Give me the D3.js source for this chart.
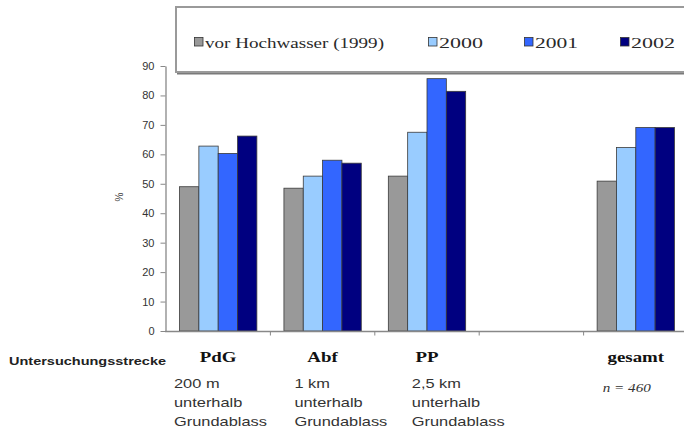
<!DOCTYPE html>
<html><head><meta charset="utf-8">
<script src="https://cdn.jsdelivr.net/npm/d3@7"></script>
<style>html,body{margin:0;padding:0;background:#fff;}svg{display:block;}</style>
</head><body>
<svg id="c" width="684" height="431"></svg>
<script>
// ---- data ----
const categories = ["PdG", "Abf", "PP", "", "gesamt"];
const seriesNames = ["vor Hochwasser (1999)", "2000", "2001", "2002"];
const v1999 = [49.0, 48.5, 52.6, null, 50.9];
const v2000 = [62.8, 52.6, 67.5, null, 62.3];
const v2001 = [60.3, 58.0, 85.7, null, 69.1];
const v2002 = [66.2, 57.0, 81.4, null, 69.1];
const yTicks = [0, 10, 20, 30, 40, 50, 60, 70, 80, 90];
const subLabels = [["200 m", "unterhalb", "Grundablass"], ["1 km", "unterhalb", "Grundablass"], ["2,5 km", "unterhalb", "Grundablass"], [], []];
const noteLabels = ["", "", "", "", "n = 460"];
const rowTitle = "Untersuchungsstrecke";
const yTitle = "%";

// ---- layout / style ----
const colors = ["#999999", "#99ccff", "#3366ff", "#000080"];
const allSeries = [v1999, v2000, v2001, v2002];
const SERIF = '"Liberation Serif", "Times New Roman", serif';
const SANS = '"Liberation Sans", Arial, sans-serif';
const svg = d3.select("#c");
const STRETCH = 1.26;
function stretch(sel, f) {
  sel.each(function () {
    const w = this.getComputedTextLength();
    this.setAttribute("textLength", w * f);
    this.setAttribute("lengthAdjust", "spacingAndGlyphs");
  });
}

const x0 = d3.scaleBand().domain(categories).range([166, 688]).paddingInner(0).paddingOuter(0);
const x1 = d3.scaleBand().domain(seriesNames).range([0, x0.bandwidth()]).paddingInner(0).paddingOuter(0.7);
const y = d3.scaleLinear().domain([0, 90]).range([331, 66]);

// legend box
const lg = svg.append("g");
lg.append("rect").attr("x", 177).attr("y", 9.5).attr("width", 560).attr("height", 65).attr("fill", "#7a7a7a");
lg.append("rect").attr("x", 176).attr("y", 7).attr("width", 560).attr("height", 65)
  .attr("fill", "#fff").attr("stroke", "#9a9a9a").attr("stroke-width", 2);
const legendLayout = [{ x: 194, w: 179 }, { x: 428, w: 44 }, { x: 524, w: 43 }, { x: 620, w: 44 }];
seriesNames.forEach((s, i) => {
  const L = legendLayout[i];
  lg.append("rect").attr("x", L.x + 0.5).attr("y", 37.5).attr("width", 8.5).attr("height", 8.5)
    .attr("fill", colors[i]).attr("stroke", "#333").attr("stroke-width", 0.8);
  lg.append("text").attr("x", L.x + 11).attr("y", 47.5)
    .attr("font-family", SERIF).attr("font-size", 15)
    .attr("fill", "#2a2a2a").attr("textLength", L.w).attr("lengthAdjust", "spacingAndGlyphs").text(s);
});

// bars
const groups = svg.append("g").selectAll("g").data(categories).join("g")
  .attr("transform", d => `translate(${x0(d)},0)`);
groups.selectAll("rect")
  .data((c, ci) => seriesNames.map((s, si) => ({ s, v: allSeries[si][ci], i: si })).filter(d => d.v != null))
  .join("rect")
  .attr("x", d => x1(d.s)).attr("width", x1.bandwidth())
  .attr("y", d => y(d.v)).attr("height", d => y(0) - y(d.v))
  .attr("fill", d => colors[d.i]).attr("stroke", "#3a3a3a").attr("stroke-width", 0.8);

// y axis
const ya = svg.append("g").attr("transform", "translate(165.5,0)")
  .call(d3.axisLeft(y).tickValues(yTicks).tickSize(5).tickSizeOuter(0).tickPadding(6));
ya.select(".domain").attr("stroke", "#888").attr("stroke-width", 1.3);
ya.selectAll(".tick line").attr("stroke", "#888");
ya.selectAll(".tick text").attr("font-family", SANS)
  .attr("font-size", 11).attr("fill", "#333");

// x axis (boundary ticks)
const xa = svg.append("g");
xa.append("line").attr("x1", 165).attr("x2", 688).attr("y1", 331.5).attr("y2", 331.5)
  .attr("stroke", "#888").attr("stroke-width", 1.5);
xa.selectAll("line.t").data(categories.slice(1)).join("line").attr("class", "t")
  .attr("x1", d => x0(d)).attr("x2", d => x0(d)).attr("y1", 331.5).attr("y2", 335.5)
  .attr("stroke", "#888").attr("stroke-width", 1);

// y title
svg.append("text").attr("transform", "translate(123,197) rotate(-90)").attr("text-anchor", "middle")
  .attr("font-family", SANS).attr("font-size", 10).attr("fill", "#444").text(yTitle);

// row title
svg.append("text").attr("x", 9).attr("y", 364.5)
  .attr("font-family", SANS).attr("font-weight", "bold")
  .attr("font-size", 11.5).attr("fill", "#222").text(rowTitle).call(stretch, STRETCH);

// category labels
svg.append("g").selectAll("text").data(categories.filter(c => c !== "")).join("text")
  .attr("x", d => x0(d) + x0.bandwidth() / 2).attr("y", 362).attr("text-anchor", "middle")
  .attr("font-family", SERIF).attr("font-weight", "bold")
  .attr("font-size", 15).attr("fill", "#111").text(d => d).call(stretch, STRETCH);

// sub labels
const subOffset = [8, 24, 37, 0, 0];
categories.forEach((c, ci) => {
  subLabels[ci].forEach((t, li) => {
    svg.append("text").attr("x", x0(c) + subOffset[ci]).attr("y", 387.5 + li * 19.3)
      .attr("font-family", SANS).attr("font-size", 13)
      .attr("fill", "#333").text(t).call(stretch, STRETCH);
  });
  if (noteLabels[ci]) {
    svg.append("text").attr("x", x0(c) + x0.bandwidth() / 2 - 9).attr("y", 392).attr("text-anchor", "middle")
      .attr("font-family", SERIF).attr("font-style", "italic")
      .attr("font-size", 12).attr("fill", "#333").text(noteLabels[ci]).call(stretch, STRETCH);
  }
});
</script>
</body></html>
